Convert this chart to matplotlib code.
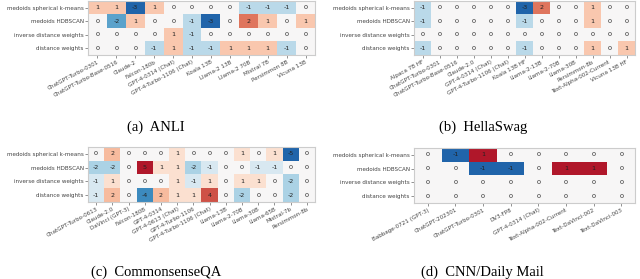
import numpy as np
import matplotlib
matplotlib.use("Agg")
import matplotlib.pyplot as plt

rows = ["medoids spherical k-means", "medoids HDBSCAN",
        "inverse distance weights", "distance weights"]

anli_models = ["ChatGPT-Turbo-0301", "ChatGPT-Turbo-Base-0516", "Claude-2",
               "Falcon-180b", "GPT-4-0314 (Chat)", "GPT-4-Turbo-1106 (Chat)",
               "Koala 13B", "Llama-2 13B", "Llama-2 70B", "Mistral 7B",
               "Persimmon 8B", "Vicuna 13B"]
anli_vals = [
    [1, 1, -3, 1, 0, 0, 0, 0, -1, -1, -1, 0],
    [0, -2, 1, 0, 0, -1, -3, 0, 2, 1, 0, 1],
    [0, 0, 0, 0, 1, -1, 0, 0, 0, 0, 0, 0],
    [0, 0, 0, -1, 1, -1, -1, 1, 1, 1, -1, 0],
]

hella_models = ["Alpaca 7B HF", "ChatGPT-Turbo-0301", "ChatGPT-Turbo-Base-0516",
                "Claude-2.0", "GPT-4-0314 (Chat)", "GPT-4-Turbo-1106 (Chat)",
                "Koala 13B HF", "Llama-2-13B", "Llama-2-70B", "Llama-30B",
                "Persimmon-8b", "Text-Alpha-002-Current", "Vicuna 13B HF"]
hella_vals = [
    [-1, 0, 0, 0, 0, 0, -3, 2, 0, 0, 1, 0, 0],
    [-1, 0, 0, 0, 0, 0, -1, 0, 0, 0, 1, 0, 0],
    [0, 0, 0, 0, 0, 0, 0, 0, 0, 0, 0, 0, 0],
    [-1, 0, 0, 0, 0, 0, -1, 0, 0, 0, 1, 0, 1],
]

csqa_models = ["ChatGPT-Turbo-0613", "Claude-2.0", "DaVinci (GPT-3)",
               "Falcon-180B", "GPT-4-0314", "GPT-4-0613 (Chat)",
               "GPT-4-Turbo-1106", "GPT-4-Turbo-1106 (Chat)", "Llama-13B",
               "Llama-2-70B", "Llama-30B", "Llama-65B", "Mistral-7b",
               "Persimmon-8b"]
csqa_vals = [
    [0, 2, 0, 0, 0, 1, 0, 0, 0, 1, 0, 1, -5, 0],
    [-2, -2, 0, 5, 1, 1, -2, -1, 0, 0, -1, -1, 0, 0],
    [-1, 1, 0, 0, 0, 1, -1, 1, 0, 1, 1, 0, -2, 0],
    [-1, 2, 0, -4, 2, 1, 1, 4, 0, -2, 0, 0, -2, 0],
]

cnn_models = ["Babbage-0721 (GPT-3)", "ChatGPT-202301", "ChatGPT-Turbo-0301",
              "DV3-FP8", "GPT-4-0314 (Chat)", "Text-Alpha-002-Current",
              "Text-DaVinci-002", "Text-DaVinci-003"]
cnn_vals = [
    [0, -1, 1, 0, 0, 0, 0, 0],
    [0, 0, -1, -1, 0, 1, 1, 0],
    [0, 0, 0, 0, 0, 0, 0, 0],
    [0, 0, 0, 0, 0, 0, 0, 0],
]

W, H = 640, 279


def px_axes(fig, left, top, right, bottom):
    return fig.add_axes([left / W, 1 - bottom / H, (right - left) / W, (bottom - top) / H])


def draw_heatmap(ax, vals, models):
    data = np.array(vals, dtype=float)
    lim = np.abs(data).max() * 1.25
    ax.imshow(data, cmap="RdBu_r", vmin=-lim, vmax=lim, aspect="auto",
              interpolation="nearest")
    for i in range(data.shape[0]):
        for j in range(data.shape[1]):
            ax.text(j, i, f"{int(data[i, j])}", ha="center", va="center",
                    fontsize=4.6, color="#222222")
    ax.set_xticks(range(len(models)))
    ax.set_xticklabels(models, rotation=28, ha="right", rotation_mode="anchor",
                       fontsize=4.1, color="#444444")
    ax.set_yticks(range(len(rows)))
    ax.set_yticklabels(rows, fontsize=4.1, color="#444444")
    ax.tick_params(length=2, width=0.5, color="#666666", pad=1.2)
    for s in ax.spines.values():
        s.set_color("#cccccc")
        s.set_linewidth(0.8)


fig = plt.figure(figsize=(W / 100, H / 100), dpi=100)

ax_a = px_axes(fig, 88, 1, 315, 55)
draw_heatmap(ax_a, anli_vals, anli_models)
ax_b = px_axes(fig, 414, 1, 635, 55)
draw_heatmap(ax_b, hella_vals, hella_models)
ax_c = px_axes(fig, 88, 147, 315, 202)
draw_heatmap(ax_c, csqa_vals, csqa_models)
ax_d = px_axes(fig, 414, 148, 635, 203)
draw_heatmap(ax_d, cnn_vals, cnn_models)

cap = dict(ha="center", va="center", fontsize=10.5, family="Liberation Serif")
fig.text(156 / W, 1 - 127 / H, "(a)  ANLI", **cap)
fig.text(483 / W, 1 - 127 / H, "(b)  HellaSwag", **cap)
fig.text(156 / W, 1 - 272 / H, "(c)  CommonsenseQA", **cap)
fig.text(482 / W, 1 - 272 / H, "(d)  CNN/Daily Mail", **cap)

fig.savefig("out.png", dpi=100)
